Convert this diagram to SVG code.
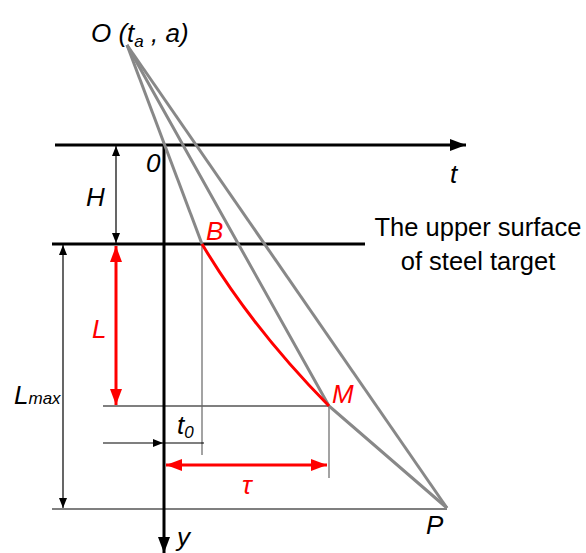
<svg xmlns="http://www.w3.org/2000/svg" width="586" height="553" viewBox="0 0 586 553">
<style>
text{font-family:"Liberation Sans",Arial,sans-serif;font-size:26px;font-style:italic;fill:#000}
.red{fill:#f00}
.up{font-style:normal;font-size:25.5px}
.thick{stroke:#000;stroke-width:3;fill:none}
.thin{stroke:#000;stroke-width:1.2;fill:none}
.gthin{stroke:#666;stroke-width:1.2;fill:none}
.gray{stroke:#888;stroke-width:3;fill:none}
.redl{stroke:#f00;stroke-width:3;fill:none}
</style>
<defs>
<marker id="ab" viewBox="0 0 10 10" refX="10" refY="5" markerWidth="10" markerHeight="10" markerUnits="userSpaceOnUse" orient="auto-start-reverse"><path d="M0,1 L10,5 L0,9Z" fill="#000"/></marker>
<marker id="abig" viewBox="0 0 16 12" refX="16" refY="6" markerWidth="16" markerHeight="12" markerUnits="userSpaceOnUse" orient="auto"><path d="M0,0 L16,6 L0,12Z" fill="#000"/></marker>
<marker id="ar" viewBox="0 0 16 12" refX="16" refY="6" markerWidth="16" markerHeight="12" markerUnits="userSpaceOnUse" orient="auto-start-reverse"><path d="M0,0 L16,6 L0,12Z" fill="#f00"/></marker>
</defs>
<g id="connectors">
<line class="thick" x1="55" y1="145" x2="466" y2="145" marker-end="url(#abig)"/>
<line class="thick" x1="164" y1="145" x2="164" y2="553" marker-end="url(#abig)"/>
<line class="thick" x1="52" y1="244" x2="365" y2="244"/>
<line class="thin" x1="52" y1="509" x2="447" y2="509"/>
<line class="thin" x1="103" y1="406" x2="329" y2="406"/>
<line class="gthin" x1="202" y1="244" x2="202" y2="455"/>
<line class="gthin" x1="329" y1="406" x2="329" y2="478"/>
<line class="gray" x1="127" y1="45" x2="202" y2="244"/>
<polyline class="gray" points="127,45 329,406 447,508"/>
<line class="gray" x1="127" y1="45" x2="447" y2="508"/>
<path class="redl" d="M202,244 Q252,328 329,406"/>
<line class="thin" x1="116" y1="146" x2="116" y2="243" marker-start="url(#ab)" marker-end="url(#ab)"/>
<line class="thin" x1="63" y1="245" x2="63" y2="508" marker-start="url(#ab)" marker-end="url(#ab)"/>
<line class="redl" x1="116" y1="246" x2="116" y2="405" marker-start="url(#ar)" marker-end="url(#ar)"/>
<line class="thin" x1="103" y1="443" x2="163" y2="443" marker-end="url(#ab)"/>
<line class="thin" x1="164" y1="443" x2="204" y2="443"/>
<line class="redl" x1="166" y1="465" x2="327" y2="465" marker-start="url(#ar)" marker-end="url(#ar)"/>
</g>
<g id="labels">
<text x="91" y="42">O (t<tspan font-size="17" dy="5">a</tspan><tspan dy="-5"> , a)</tspan></text>
<text x="146" y="172">0</text>
<text x="450" y="183">t</text>
<text x="86" y="206">H</text>
<text class="red" x="206" y="240">B</text>
<text class="red" x="92" y="338">L</text>
<text x="14" y="404">L<tspan font-size="17">max</tspan></text>
<text class="red" x="332" y="403">M</text>
<text x="177" y="434">t<tspan font-size="17" dy="4">0</tspan></text>
<text class="red" x="242" y="494" font-size="30">τ</text>
<text x="426" y="534">P</text>
<text x="177" y="546">y</text>
<text class="up" x="478" y="236" text-anchor="middle">The upper surface</text>
<text class="up" x="478" y="270" text-anchor="middle">of steel target</text>
</g>
</svg>
